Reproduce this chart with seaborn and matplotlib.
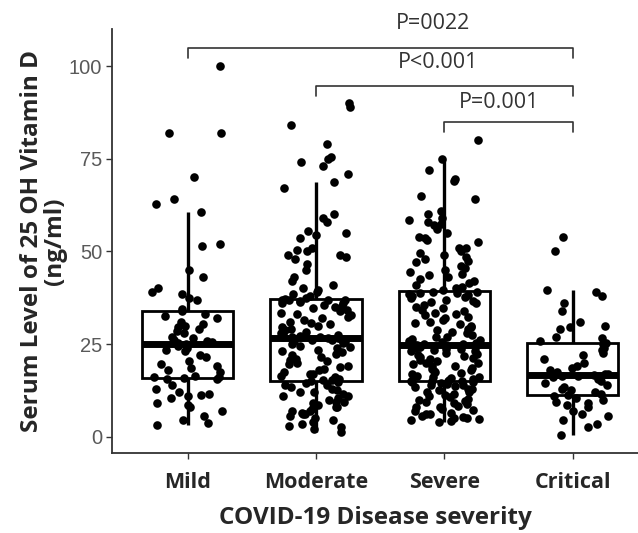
import numpy as np
import pandas as pd
import seaborn as sns
import matplotlib.pyplot as plt

# ======= data (ng/ml) =======
categories = ["Mild", "Moderate", "Severe", "Critical"]

mild = [3.2, 3.8, 4.6, 5.5, 7.0, 8.0, 8.5, 9.0, 10.5, 11.0, 11.2, 11.5, 12.0, 13.0, 14.0, 15.5, 15.6,
        15.8, 16.0, 16.2, 16.5, 17.5, 18.0, 18.5, 19.0, 19.5, 20.5, 21.5, 22.0, 23.0, 23.5, 24.0, 24.5, 25.0,
        25.2, 25.5, 25.8, 26.0, 26.5, 27.0, 28.0, 28.5, 29.0, 29.5, 30.0, 30.5, 31.0, 32.0, 32.5, 33.0, 33.8,
        34.5, 37.0, 37.5, 38.5, 39.0, 40.0, 43.0, 45.0, 51.5, 52.0, 60.5, 62.8, 64.0, 70.0, 82.0, 82.0, 100.0]

moderate = [1.2, 2.0, 2.5, 3.0, 3.5, 4.0, 4.5, 5.0, 5.5, 6.0, 6.0, 6.5, 7.0, 7.0, 7.5, 8.0, 8.0, 8.5,
            9.0, 9.5, 9.5, 10.0, 10.5, 11.0, 11.0, 11.5, 12.0, 12.0, 12.5, 13.0, 13.5, 14.0, 14.0, 14.5, 14.8, 15.0,
            15.2, 15.4, 15.6, 16.0, 16.3, 16.8, 17.0, 17.5, 18.0, 18.2, 18.8, 19.0, 19.5, 20.0, 20.3, 20.8, 21.0, 21.5,
            22.0, 22.2, 22.8, 23.0, 23.5, 24.0, 24.2, 24.6, 25.0, 25.3, 25.6, 25.8, 26.0, 26.2, 26.4, 26.5, 26.6, 26.7,
            26.8, 26.9, 27.0, 27.2, 27.4, 27.6, 28.0, 28.3, 28.7, 29.0, 29.5, 30.0, 30.4, 30.8, 31.0, 31.5, 32.0, 32.3,
            32.8, 33.0, 33.5, 34.0, 34.2, 34.6, 35.0, 35.3, 35.6, 36.0, 36.2, 36.4, 36.6, 36.8, 36.9, 37.0, 37.0, 37.1,
            37.5, 38.0, 38.5, 39.0, 39.5, 40.0, 41.0, 42.0, 43.0, 45.0, 46.5, 48.0, 48.5, 49.0, 49.0, 50.0, 50.5, 51.0,
            53.5, 54.5, 55.0, 55.5, 58.0, 59.0, 60.0, 67.0, 68.8, 71.0, 73.0, 74.0, 75.0, 75.5, 79.0, 84.0, 89.0, 90.0]

severe = [4.0, 4.2, 4.5, 4.8, 5.0, 5.0, 5.3, 5.6, 6.0, 6.2, 6.5, 7.0, 7.1, 7.5, 8.0, 8.0, 8.4, 8.8, 9.0, 9.3,
          9.7, 10.0, 10.2, 10.8, 11.0, 11.3, 11.6, 12.0, 12.1, 12.5, 12.9, 13.0, 13.4, 13.7, 14.0, 14.0, 14.3, 14.5,
          14.7, 14.8, 14.9, 15.0, 15.0,
          15.1, 15.3, 15.5, 15.8, 16.0, 16.2, 16.5, 16.9, 17.2, 17.5, 17.8, 18.0, 18.3, 18.6, 19.0, 19.2, 19.5, 19.8,
          20.0, 20.4, 20.7, 21.0, 21.2, 21.5, 21.8, 22.0, 22.3, 22.6, 23.0, 23.1, 23.4, 23.6, 23.8, 24.0, 24.1, 24.2,
          24.3, 24.4, 24.5, 24.6, 24.7, 24.8, 24.8,
          24.9, 25.0, 25.2, 25.5, 25.8, 26.0, 26.4, 26.8, 27.0, 27.5, 28.0, 28.3, 28.8, 29.0, 29.5, 30.0, 30.3, 30.8,
          31.0, 31.5, 32.0, 32.4, 32.8, 33.0, 33.5, 34.0, 34.3, 34.8, 35.0, 35.5, 36.0, 36.3, 36.7, 37.0, 37.3, 37.6,
          38.0, 38.2, 38.5, 38.7, 38.9, 39.0, 39.1,
          39.5, 40.0, 40.5, 41.0, 41.5, 42.0, 42.5, 43.0, 43.5, 44.0, 44.5, 45.0, 45.5, 46.0, 47.0, 47.5, 48.0, 48.5,
          49.0, 49.5, 50.0, 51.0, 51.0, 52.5, 53.0, 53.5, 54.0, 55.0, 56.0, 57.0, 57.5, 58.0, 58.5, 59.0, 60.0, 61.0,
          64.0, 65.0, 69.0, 69.5, 72.0, 75.0, 80.0]

critical = [0.5, 2.5, 3.5, 4.5, 5.5, 6.0, 7.0, 8.0, 8.5, 9.0, 9.5, 10.0, 10.5, 11.0,
            11.2, 11.5, 12.0, 12.5, 13.0, 13.5, 14.0, 14.5, 15.0, 15.5, 16.0, 16.3, 16.5, 16.7,
            16.8, 17.0, 17.5, 18.0, 18.5, 19.0, 20.0, 21.0, 22.0, 22.5, 23.5, 24.0, 25.0, 25.3,
            25.7, 26.5, 27.0, 29.0, 29.5, 30.0, 31.0, 34.0, 36.0, 38.0, 39.0, 39.6, 50.0, 54.0]

yticks = [0, 25, 50, 75, 100]

# comparisons: (group a, group b, label)
comparisons = [("Mild", "Critical", "P=0022"),
               ("Moderate", "Critical", "P<0.001"),
               ("Severe", "Critical", "P=0.001")]
# ==================================================


def plot_box():
    df = pd.DataFrame({
        "severity": ["Mild"] * len(mild) + ["Moderate"] * len(moderate)
                    + ["Severe"] * len(severe) + ["Critical"] * len(critical),
        "vitd": mild + moderate + severe + critical,
    })

    sns.set_style("white")
    fig = plt.figure(figsize=(6.38, 5.33), dpi=100)
    ax = fig.add_axes([0.1755, 0.1507, 0.8245, 0.795])

    sns.boxplot(data=df, x="severity", y="vitd", order=categories, ax=ax,
                width=0.71, color="white", linecolor="black", linewidth=2.0,
                showcaps=False, showfliers=False,
                medianprops=dict(linewidth=5.0, color="black"),
                whiskerprops=dict(linewidth=2.4, color="black"))

    np.random.seed(7)
    sns.stripplot(data=df, x="severity", y="vitd", order=categories, ax=ax,
                  color="black", size=6.2, jitter=0.28, zorder=3)

    ax.set_xlim(-0.59, 3.51)
    ax.set_ylim(-4.3, 110)
    ax.set_yticks(yticks)

    for s in ["top", "right"]:
        ax.spines[s].set_visible(False)
    for s in ["left", "bottom"]:
        ax.spines[s].set_color("#333333")
        ax.spines[s].set_linewidth(1.3)

    ax.tick_params(axis="y", length=4, width=1.0, color="#333333",
                   labelcolor="#595959", labelsize=14.5, pad=3, left=True)
    ax.tick_params(axis="x", length=4, width=1.0, color="#333333",
                   labelsize=15.5, pad=10, bottom=True)
    for lab in ax.get_yticklabels():
        lab.set_fontfamily("Liberation Sans")
    for lab in ax.get_xticklabels():
        lab.set_fontfamily("Open Sans")
        lab.set_fontweight("bold")

    ax.set_xlabel("COVID-19 Disease severity", fontsize=17.5, fontweight="bold",
                  fontfamily="Open Sans", labelpad=9)
    ax.set_ylabel("Serum Level of 25 OH Vitamin D\n(ng/ml)", fontsize=17.5,
                  fontweight="bold", fontfamily="Open Sans", labelpad=1,
                  linespacing=0.95)

    # significance brackets
    bar_y = [104.9, 94.7, 85.0]
    text_y = [111.4, 100.9, 90.2]
    text_x = [1.91, 1.95, 2.43]
    for (a, b, lab), by, ty, tx in zip(comparisons, bar_y, text_y, text_x):
        xa, xb = categories.index(a), categories.index(b)
        ax.plot([xa, xa, xb, xb], [by - 2.7, by, by, by - 2.7],
                color="#333333", lw=1.2, clip_on=False, zorder=4)
        ax.text(tx, ty, lab, ha="center", va="center", fontsize=15.5,
                fontfamily="Open Sans", color="#333333", clip_on=False)

    fig.savefig("out.png", dpi=100)


if __name__ == "__main__":
    plot_box()
